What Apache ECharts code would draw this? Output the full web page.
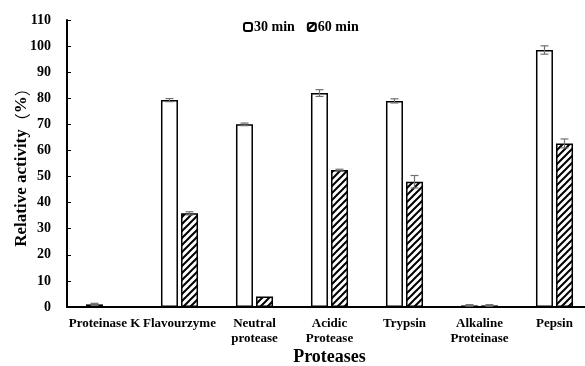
<!DOCTYPE html>
<html><head><meta charset="utf-8">
<script src="https://cdn.jsdelivr.net/npm/echarts@6/dist/echarts.min.js"></script>
<style>html,body{margin:0;padding:0;background:#fff}#c{width:585px;height:366px}</style>
</head><body><div id="c"></div>
<script>
var categories = ['Proteinase K','Flavourzyme','Neutral\nprotease','Acidic\nProtease','Trypsin','Alkaline\nProteinase','Pepsin'];
var values30 = [1.0, 79.3, 70.0, 82.0, 79.0, 0.6, 98.5];
var values60 = [0, 35.9, 4.0, 52.5, 48.0, 0.6, 62.7];
var err30 = [0.4, 0.6, 0.5, 1.3, 0.8, 0.3, 1.6];
var err60 = [0, 0.6, 0, 0.3, 2.4, 0.3, 1.7];
var yTicks = [0,10,20,30,40,50,60,70,80,90,100,110];

var FONT = '"Liberation Serif","Times New Roman",serif';
var cv = document.createElement('canvas');
cv.width = 7; cv.height = 7;
var g = cv.getContext('2d');
g.fillStyle = '#fff'; g.fillRect(0,0,7,7);
g.strokeStyle = '#000'; g.lineWidth = 2;
g.beginPath();
g.moveTo(-1,8); g.lineTo(8,-1);
g.moveTo(-4,4); g.lineTo(4,-4);
g.moveTo(3,11); g.lineTo(11,3);
g.stroke();
var hatch = {image: cv, repeat: 'repeat'};

var BW = 17, OFF = 10;
function errSeries(vals, errs, dir) {
  var data = vals.map(function(v,i){ return [i, v, errs[i]]; });
  return {
    type: 'custom', z: 10, silent: true,
    renderItem: function(params, api) {
      var i = api.value(0), v = api.value(1), e = api.value(2);
      if (e <= 0) return null;
      var top = api.coord([i, v + e]), bot = api.coord([i, v - e]);
      var x = top[0] + dir * OFF, hw = 4;
      var st = {stroke: '#707070', lineWidth: 1.2};
      return {type: 'group', children: [
        {type: 'line', shape: {x1: x, y1: top[1], x2: x, y2: bot[1]}, style: st},
        {type: 'line', shape: {x1: x-hw, y1: top[1], x2: x+hw, y2: top[1]}, style: st},
        {type: 'line', shape: {x1: x-hw, y1: bot[1], x2: x+hw, y2: bot[1]}, style: st}
      ]};
    },
    data: data
  };
}

var chart = echarts.init(document.getElementById('c'));
chart.setOption({
  animation: false,
  backgroundColor: '#fff',
  textStyle: {fontFamily: FONT},
  grid: {left: 67, top: 20, right: -7, bottom: 59, containLabel: false, outerBoundsMode: 'none'},
  legend: {
    top: 15, left: 238, itemWidth: 8, itemHeight: 8, itemGap: 12,
    textStyle: {fontFamily: FONT, fontWeight: 'bold', fontSize: 14, color: '#000', padding: [0,0,0,-3]},
    data: ['30 min', '60 min']
  },
  xAxis: {
    type: 'category', data: categories,
    axisLine: {lineStyle: {color: '#000', width: 2}},
    axisTick: {inside: true, length: 4, lineStyle: {color: '#000', width: 1}},
    axisLabel: {fontFamily: FONT, fontWeight: 'bold', fontSize: 13, color: '#000', margin: 9, lineHeight: 15, interval: 0},
    name: 'Proteases', nameLocation: 'middle', nameGap: 41, nameMoveOverlap: false,
    nameTextStyle: {fontFamily: FONT, fontWeight: 'bold', fontSize: 18, color: '#000'}
  },
  yAxis: {
    type: 'value', min: 0, max: 110, interval: 10,
    axisLine: {show: true, lineStyle: {color: '#000', width: 2}},
    axisTick: {show: true, inside: true, length: 4, lineStyle: {color: '#000'}},
    splitLine: {show: false},
    axisLabel: {fontFamily: FONT, fontWeight: 'bold', fontSize: 14, color: '#000', margin: 16},
    name: 'Relative activity{p|（}%{p|）}', nameLocation: 'middle', nameGap: 37, nameMoveOverlap: false,
    nameTextStyle: {fontFamily: FONT, fontWeight: 'bold', fontSize: 17, color: '#000',
      rich: {p: {fontFamily: '"Noto Sans CJK SC"', fontWeight: 'normal', fontSize: 16, color: '#000'}}}
  },
  series: [
    {name: '30 min', type: 'bar', data: values30, barWidth: BW, barGap: '18%',
     itemStyle: {color: '#fff', borderColor: '#000', borderWidth: 1.5}},
    {name: '60 min', type: 'bar', data: values60, barWidth: BW,
     itemStyle: {color: hatch, borderColor: '#000', borderWidth: 1.5}},
    errSeries(values30, err30, -1),
    errSeries(values60, err60, 1)
  ]
});
</script></body></html>
